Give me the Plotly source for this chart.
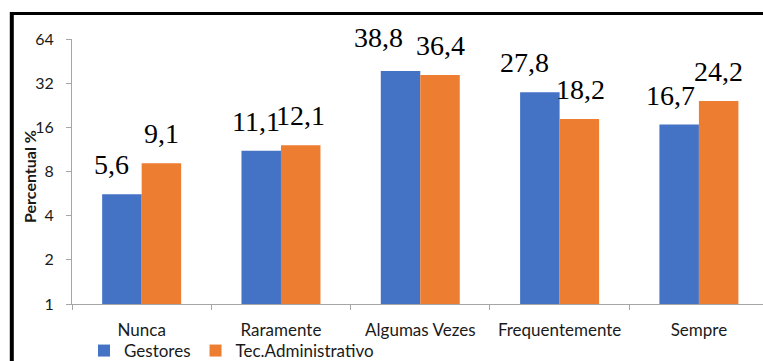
import math
import plotly.graph_objects as go

# Survey data: share of answers (%) per frequency category
categories = ["Nunca", "Raramente", "Algumas Vezes", "Frequentemente", "Sempre"]
gestores = [5.6, 11.1, 38.8, 27.8, 16.7]
tec_admin = [9.1, 12.1, 36.4, 18.2, 24.2]
y_ticks = [1, 2, 4, 8, 16, 32, 64]

# manual label nudges in pixels (x, y) for each series
nudge_gestores = [(-10, 0), (-5, 0), (-22, 4), (-15, 0), (-9, 0)]
nudge_tec = [(0, 0), (0, 0), (0, 0), (1, 0), (0, 0)]

BLUE = "#4472C4"
ORANGE = "#ED7D31"
AXIS_GRAY = "#A6A6A6"
TXT = "#1a1a1a"
SANS = "Lato"
SERIF = "Liberation Serif"

# plot-area geometry in pixels
W, H = 763, 361
L, T, B = 72, 39, 57
PW, PH = W - L, H - T - B

fig = go.Figure()
fig.add_trace(go.Bar(name="Gestores", x=categories, y=gestores,
                     marker=dict(color=BLUE, line=dict(width=0))))
fig.add_trace(go.Bar(name="Tec.Administrativo", x=categories, y=tec_admin,
                     marker=dict(color=ORANGE, line=dict(width=0))))

BARGAP = 0.433
half = (1 - BARGAP) / 4  # offset of each bar centre from the category centre


def fmt(v):
    return f"{v:.1f}".replace(".", ",")


def px_x(px):
    return (px - L) / PW


def px_y(py):
    return 1 - (py - T) / PH


annotations = []
for i, (g, t) in enumerate(zip(gestores, tec_admin)):
    for val, off, (dx, dy) in ((g, -half, nudge_gestores[i]), (t, half, nudge_tec[i])):
        annotations.append(dict(
            x=i + off, y=math.log10(val), xref="x", yref="y",
            text=fmt(val), showarrow=False, yanchor="bottom",
            xshift=dx, yshift=12 + dy,
            font=dict(family=SERIF, size=28, color="black"),
        ))

# y-axis title
annotations.append(dict(
    x=px_x(29), y=px_y(177), xref="paper", yref="paper",
    text="<b>Percentual %</b>", showarrow=False, textangle=-90,
    xanchor="center", yanchor="middle",
    font=dict(family=SANS, size=16, color=TXT),
))

fig.update_layout(
    width=W, height=H,
    margin=dict(l=L, r=0, t=T, b=B, autoexpand=False),
    paper_bgcolor="white", plot_bgcolor="white",
    barmode="group", bargap=BARGAP, bargroupgap=0,
    font=dict(family=SANS, size=16, color=TXT),
    showlegend=True,
    legend=dict(orientation="h", xref="container", x=(84 / W), xanchor="left",
                yref="container", y=(H - 351) / H, yanchor="middle",
                font=dict(family=SANS, size=17, color=TXT),
                itemwidth=30, tracegroupgap=0, bgcolor="rgba(0,0,0,0)"),
    annotations=annotations,
    shapes=[
        # chart frame (top and left edges)
        dict(type="line", xref="paper", yref="paper",
             x0=px_x(11.5), x1=1.02, y0=px_y(13.5), y1=px_y(13.5),
             line=dict(color="black", width=3)),
        dict(type="line", xref="paper", yref="paper",
             x0=px_x(11.8), x1=px_x(11.8), y0=px_y(12), y1=px_y(H + 5),
             line=dict(color="black", width=4)),
    ],
)

fig.update_xaxes(
    type="category", range=[-0.5, 4.46], automargin=False,
    showline=True, linecolor=AXIS_GRAY, linewidth=1,
    ticks="outside", tickson="boundaries", ticklen=5, tickcolor=AXIS_GRAY,
    tickfont=dict(family=SANS, size=17, color=TXT),
    ticklabelstandoff=11,
    showgrid=False, zeroline=False,
)
fig.update_yaxes(
    type="log", range=[0, math.log10(64)], automargin=False,
    tickvals=y_ticks, ticktext=[str(v) for v in y_ticks],
    showline=True, linecolor=AXIS_GRAY, linewidth=1,
    ticks="outside", ticklen=5, tickcolor=AXIS_GRAY,
    tickfont=dict(family=SANS, size=16, color=TXT),
    ticklabelstandoff=9,
    showgrid=False, zeroline=False,
)

fig.write_html("out.html")
